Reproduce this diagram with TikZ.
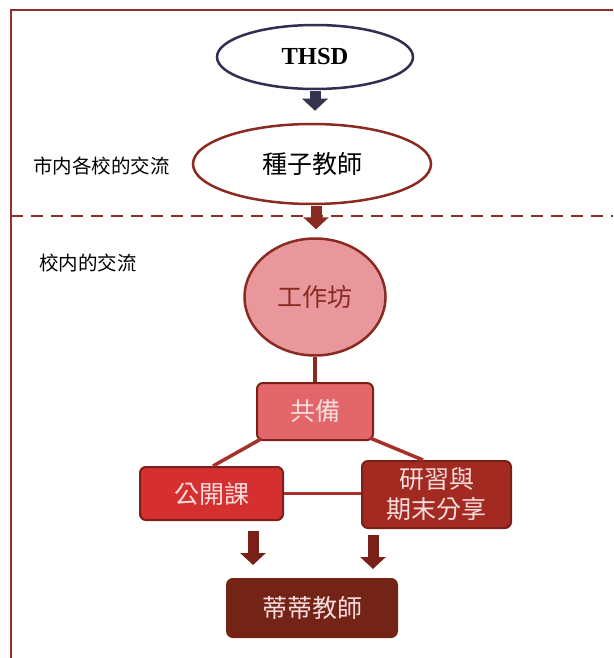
\documentclass[tikz,border=0pt]{standalone}
\usepackage{fontspec}
\setmainfont{Liberation Serif}
\newfontfamily\cjk{Noto Sans CJK TC}
\usetikzlibrary{shapes.geometric,arrows.meta}
\definecolor{framered}{HTML}{8E2F2A}
\definecolor{navy}{HTML}{2F2F4F}
\definecolor{navyarrow}{HTML}{34344E}
\definecolor{darkred}{HTML}{8B2A20}
\definecolor{linkred}{HTML}{A8302A}
\definecolor{wsfill}{HTML}{E8979C}
\definecolor{cbfill}{HTML}{E3666A}
\definecolor{pubfill}{HTML}{D52F2F}
\definecolor{studyfill}{HTML}{A22A20}
\definecolor{boxedge}{HTML}{7A2018}
\definecolor{tifill}{HTML}{742317}
\definecolor{lighttext}{HTML}{F6DCDC}
\tikzset{
  bigtext/.style={font=\cjk\fontsize{25}{30}\selectfont},
  labeltext/.style={font=\cjk\fontsize{19.5}{22}\selectfont, anchor=west, inner sep=0pt},
  oval/.style={ellipse, line width=2.5pt, inner sep=0pt},
  rbox/.style={rectangle, rounded corners=6pt, line width=2pt, draw=boxedge, text=lighttext, bigtext, inner sep=0pt, align=center},
  blockarrow/.style={line width=11pt, -{Triangle[width=25pt,length=12pt]}},
  link/.style={draw=linkred, line width=3.5pt}
}
\begin{document}
\begin{tikzpicture}[x=1pt,y=-1pt]
\useasboundingbox (0,0) rectangle (613,658);
% frame
\draw[framered, line width=2.5pt] (613,10) -- (11,10) -- (11,658);
\draw[framered, line width=2.5pt, dash pattern=on 12pt off 8pt] (11,216) -- (613,216);
% labels
\node[labeltext] (lab1) at (33,166) {市内各校的交流};
\node[labeltext] (lab2) at (39,263) {校内的交流};
% nodes
\node[oval, draw=navy, fill=white, minimum width=196pt, minimum height=64pt,
      font=\fontsize{24.5}{28}\selectfont\bfseries] (thsd) at (315,57) {THSD};
\node[oval, draw=darkred, fill=white, minimum width=238pt, minimum height=80pt,
      bigtext] (seed) at (312,164) {種子教師};
\node[oval, draw=darkred, fill=wsfill, minimum width=141pt, minimum height=117pt,
      bigtext, text=darkred] (ws) at (315,297) {工作坊};
\node[rbox, fill=cbfill, minimum width=116pt, minimum height=57pt] (cb) at (315,411.5) {共備};
\node[rbox, fill=pubfill, minimum width=143pt, minimum height=53pt] (pub) at (211.5,493.5) {公開課};
\node[rbox, fill=studyfill, minimum width=149pt, minimum height=67pt, font=\cjk\fontsize{25}{30}\selectfont] (study) at (436.5,494.5) {研習與\\期末分享};
\node[rbox, fill=tifill, draw=tifill, minimum width=170pt, minimum height=58pt] (ti) at (312,608) {蒂蒂教師};
% block arrows
\draw[blockarrow, navyarrow, shorten >=12pt, shorten <=1pt] (thsd.south -| 315,0) -- (seed.north -| 315,0);
\draw[blockarrow, darkred, shorten >=8pt, shorten <=1pt] (seed.south -| 316,0) -- (ws.north -| 316,0);
\coordinate (a1s) at (253,531);
\coordinate (a1e) at (253,565);
\coordinate (a2s) at (373,535);
\coordinate (a2e) at (373,569);
\draw[blockarrow, boxedge] (a1s) -- (a1e);
\draw[blockarrow, boxedge] (a2s) -- (a2e);
% links
\draw[link, draw=darkred] (ws.south) -- (cb.north);
\draw[link] (cb.south west) ++(5,-2) coordinate (cbl) -- (pub.north -| 213,0);
\draw[link] (cb.south east) ++(-4,-3) coordinate (cbr) -- (study.north -| 423,0);
\draw[link] (pub.east) -- (study.west |- pub.east);
\end{tikzpicture}
\end{document}
